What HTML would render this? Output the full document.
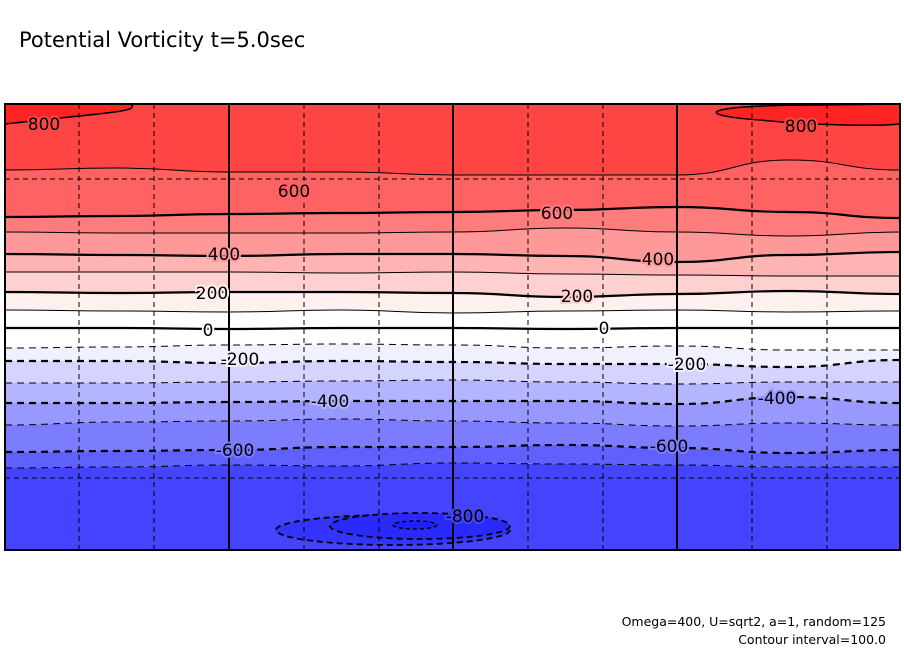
<!DOCTYPE html>
<html><head><meta charset="utf-8"><style>
body{margin:0;background:#fff;width:904px;height:654px;overflow:hidden;font-family:"DejaVu Sans","Liberation Sans",sans-serif}
</style></head><body>
<svg width="904" height="654" xmlns="http://www.w3.org/2000/svg">
<text x="19" y="47" font-size="21" fill="#000">Potential Vorticity t=5.0sec</text>
<defs><clipPath id="pc"><rect x="5" y="104" width="895" height="446"/></clipPath></defs>
<g id="plot" clip-path="url(#pc)"></g>
<rect x="5" y="104" width="895" height="446" fill="none" stroke="#000" stroke-width="2"/>
<text x="886" y="626" font-size="12.5" text-anchor="end">Omega=400, U=sqrt2, a=1, random=125</text>
<text x="886" y="644" font-size="12.5" text-anchor="end">Contour interval=100.0</text>
</svg>
<script>
const xs=[5,117,229,341,453,565,677,789,900];
const levels=[700,600,500,400,300,200,100,0,-100,-200,-300,-400,-500,-600,-700];
const contourY=[
[170,168,172,172,175,175,175,160,170],
[217,216,214,213,212,210,207,212,218],
[232,233,233,233,232,228,232,236,232],
[254,255,256,254,254,256,262,255,252],
[272,272,272,273,272,274,275,276,276],
[292,293,292,292,293,297,294,291,294],
[310,311,312,310,313,311,310,312,311],
[328,328,329,328,328,329,328,328,328],
[348,347,345,344,345,348,346,350,350],
[361,361,363,361,362,364,364,367,360],
[383,383,382,381,380,382,384,382,382],
[403,403,402,401,401,401,404,397,403],
[425,422,421,419,421,423,426,423,425],
[452,451,450,447,447,445,448,453,450],
[468,467,465,466,463,464,465,467,467]];
const bandColors=["#ff4444","#ff6262","#ff7c7c","#ff9898","#ffb4b4","#ffd0d0","#fff0f0","#ffffff","#ffffff","#f0f0ff","#d4d4ff","#b4b4ff","#9898ff","#7c7cff","#6060ff","#4444ff"];
const labels=[["800",44,124],["600",294,191],["600",557,213],["400",224,254],["400",658,259],["200",212,293],["200",577,296],["0",208,330],["0",604,328],["-200",240,359],["-200",687,364],["-400",330,401],["-400",777,398],["-600",235,450],["-600",669,446],["-800",465,516],["800",801,126]];
const NS="http://www.w3.org/2000/svg";
const g=document.getElementById('plot');
function mk(t,a){const e=document.createElementNS(NS,t);for(const k in a)e.setAttribute(k,a[k]);g.appendChild(e);return e;}
function curve(ys){let d="M"+xs[0]+","+ys[0];for(let i=1;i<xs.length;i++){const xm=(xs[i-1]+xs[i])/2;d+=" C"+xm+","+ys[i-1]+" "+xm+","+ys[i]+" "+xs[i]+","+ys[i];}return d;}
function curveRev(ys){let d="L"+xs[xs.length-1]+","+ys[ys.length-1];for(let i=xs.length-2;i>=0;i--){const xm=(xs[i+1]+xs[i])/2;d+=" C"+xm+","+ys[i+1]+" "+xm+","+ys[i]+" "+xs[i]+","+ys[i];}return d;}
for(let b=0;b<=levels.length;b++){
  const top=b===0?xs.map(()=>100):contourY[b-1];
  const bot=b===levels.length?xs.map(()=>555):contourY[b];
  const p=mk('path',{d:curve(top)+" "+curveRev(bot)+" Z",fill:bandColors[b]});
  
  
}
let e;
e=mk('path',{d:"M5,104 L130,104 C140,110 120,112 60,118 L5,124 Z",fill:"#ff2424",stroke:"#000","stroke-width":1.5});

e=mk('path',{d:"M900,104 L820,105 C700,105 690,115 760,120 C820,126 880,126 900,124 Z",fill:"#ff2424",stroke:"#000","stroke-width":1.5});

e=mk('ellipse',{cx:393,cy:530,rx:117,ry:15,fill:"#3434ff",stroke:"#000","stroke-width":1.8,"stroke-dasharray":"6,4"});

e=mk('ellipse',{cx:420,cy:526,rx:90,ry:13,fill:"#2a2aff",stroke:"#000","stroke-width":1.8,"stroke-dasharray":"6,4"});

e=mk('ellipse',{cx:415,cy:525,rx:22,ry:4,fill:"#2020ff",stroke:"#000","stroke-width":1.5,"stroke-dasharray":"4,3"});

[79,154,304,379,528,603,752,827].forEach(x=>{const l=mk('line',{x1:x,y1:104,x2:x,y2:550,stroke:"#000","stroke-width":1,"stroke-dasharray":"5,4"});
});
[179,478].forEach(y=>{const l=mk('line',{x1:5,y1:y,x2:900,y2:y,stroke:"#000","stroke-width":1,"stroke-dasharray":"5,4"});
});
levels.forEach((lv,i)=>{
  const thick=(lv%200===0);
  const a={d:curve(contourY[i]),fill:"none",stroke:"#000","stroke-width":thick?2.2:1};
  if(lv<0)a["stroke-dasharray"]="7,5";
  const p=mk('path',a);
  
  
});
[229,453,677].forEach(x=>{const l=mk('line',{x1:x,y1:104,x2:x,y2:550,stroke:"#000","stroke-width":2});
});
function bandAt(x,y){let k=0;for(let i=1;i<xs.length;i++)if(Math.abs(xs[i]-x)<Math.abs(xs[k]-x))k=i;let b=0;for(let i=0;i<levels.length;i++)if(y>contourY[i][k])b=i+1;return bandColors[b];}
labels.forEach(([t,x,y])=>{
  const tx=mk('text',{x:x,y:y+6,"font-size":17,"text-anchor":"middle",fill:"#000",stroke:bandAt(x,y),"stroke-width":4,"paint-order":"stroke"});
  tx.textContent=t;
  
  
});
</script>
</body></html>
